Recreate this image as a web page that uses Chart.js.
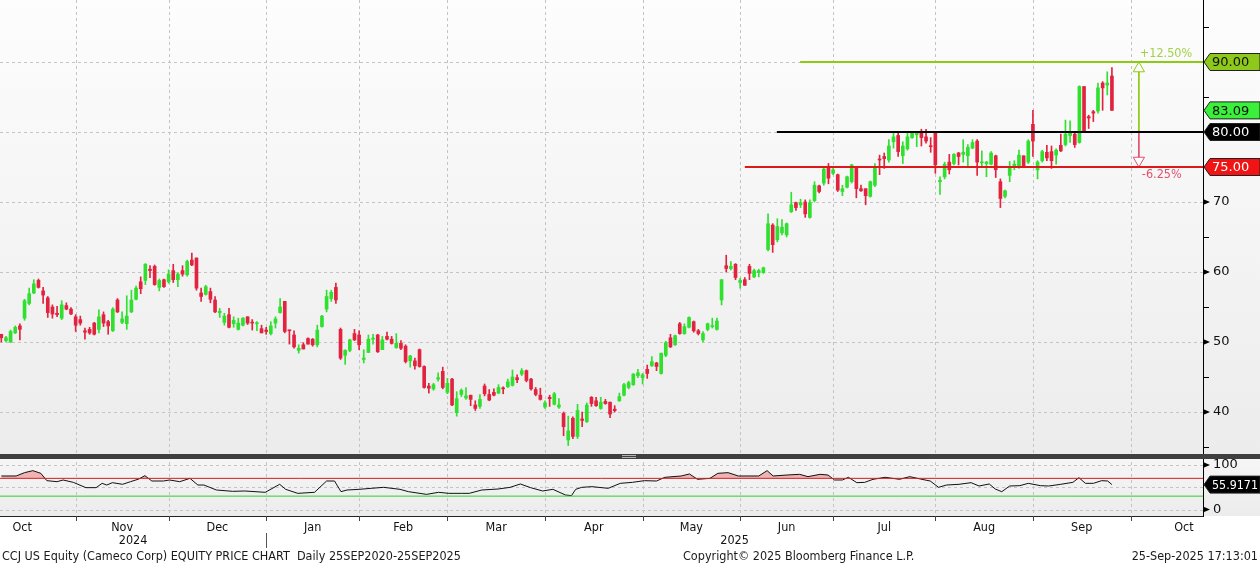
<!DOCTYPE html>
<html>
<head>
<meta charset="utf-8">
<script src="https://cdn.jsdelivr.net/npm/chart.js@4.4.1/dist/chart.umd.min.js"></script>
<style>
html, body { margin: 0; padding: 0; background: #fff; }
canvas { display: block; }
</style>
</head>
<body>
<canvas id="myChart" width="1260" height="567"></canvas>
<script>
"use strict";

// daily OHLC, one entry per trading day from 10 Oct 2024 to 25 Sep 2025
var openPx = [
    51.1,50.2,50.0,51.3,52.3,53.4,55.5,57.0,58.8,57.3,56.3,55.0,54.1,53.4,55.2,54.7,53.6,53.2,51.6,51.8,
    52.7,51.8,53.9,52.9,51.6,56.0,52.8,52.6,54.3,56.1,58.6,58.8,60.4,60.8,57.8,58.9,58.6,60.2,58.9,60.2,
    59.6,61.7,62.0,57.0,56.8,57.2,56.0,54.2,52.8,53.9,52.6,51.8,52.4,53.6,52.8,52.6,51.9,51.7,51.2,52.7,
    54.2,55.8,51.7,51.0,48.8,49.6,50.5,50.4,49.6,52.2,54.7,56.2,57.8,51.8,48.1,48.8,51.2,51.0,47.5,48.5,
    50.4,51.0,48.9,50.8,50.4,49.2,49.8,49.4,47.3,47.3,48.9,46.5,43.7,43.3,44.7,45.8,42.8,44.7,39.9,42.5,
    42.0,42.4,41.0,40.8,43.7,42.5,42.8,42.7,43.4,43.6,43.8,44.9,45.4,45.9,44.7,43.2,42.4,40.7,42.1,41.1,
    40.7,39.8,36.0,39.1,36.5,39.0,38.6,42.1,41.6,40.5,41.5,41.4,40.4,41.6,42.4,43.5,43.9,45.2,44.9,46.1,
    46.6,47.0,45.5,48.1,50.6,49.6,52.6,51.2,52.1,52.9,51.6,50.3,51.8,52.2,51.8,56.0,60.9,60.5,61.1,58.5,
    58.9,60.8,59.3,59.9,59.9,63.2,66.7,64.6,65.6,65.3,68.6,69.9,69.6,70.0,67.8,70.2,72.3,72.7,75.0,74.1,
    73.9,71.5,72.1,72.9,74.8,71.9,71.9,70.8,72.4,76.1,76.5,76.0,78.6,79.5,76.6,77.6,79.2,79.6,80.0,79.3,
    78.0,80.0,72.9,73.6,75.7,75.5,77.0,76.8,76.6,77.7,78.7,75.6,75.5,75.4,76.6,72.9,70.8,73.8,75.0,75.0,
    76.6,75.7,81.1,74.6,75.9,77.1,77.2,76.7,78.1,78.2,79.5,79.7,78.5,86.5,82.2,82.9,83.0,87.0,86.7,88.0
];
var highPx = [
    51.1,50.8,51.7,52.3,52.6,56.1,57.7,58.9,59.0,57.8,56.5,55.3,55.1,55.9,55.6,54.9,53.9,53.7,52.0,52.1,
    52.8,54.6,54.3,53.1,54.9,56.2,54.3,56.6,57.4,58.0,59.3,61.2,60.9,61.0,59.0,59.0,60.3,61.1,59.9,60.9,
    61.7,62.7,62.0,57.7,58.1,57.7,56.5,54.8,54.1,54.8,53.6,53.4,53.5,53.6,53.2,52.9,52.4,52.1,52.9,53.6,
    56.2,55.8,51.7,51.6,49.6,49.9,50.6,50.5,52.4,53.8,57.4,57.4,58.4,52.0,48.9,50.4,51.8,51.6,48.9,51.0,
    51.1,51.1,50.8,51.4,50.8,51.2,50.2,49.6,48.1,47.7,49.0,46.6,44.1,44.1,45.6,46.4,44.8,44.8,42.9,43.3,
    43.5,42.4,41.6,42.5,44.0,43.2,43.3,43.9,43.6,44.7,46.0,45.3,46.2,46.0,44.8,43.5,43.4,41.6,42.4,42.8,
    41.9,40.0,39.4,39.3,41.1,40.0,41.3,42.2,42.1,42.1,41.8,41.4,40.9,42.7,44.1,44.4,45.5,46.1,45.5,46.7,
    47.9,47.1,48.4,50.1,51.1,51.0,52.8,52.6,53.6,53.0,51.8,51.5,52.7,53.4,53.4,58.9,62.4,61.5,61.2,59.1,
    59.2,61.1,60.4,60.4,60.7,68.3,66.9,67.6,67.5,67.0,71.4,70.0,70.4,70.3,70.3,72.9,72.4,75.0,75.5,75.0,
    74.0,72.4,73.7,75.4,75.0,72.4,71.9,73.0,75.5,76.7,77.0,78.9,80.0,79.8,78.6,80.1,80.1,80.1,80.4,80.4,
    79.2,80.1,73.6,75.7,76.8,76.9,77.1,78.9,78.2,78.9,78.9,77.3,75.8,77.2,76.7,73.3,71.7,75.8,75.9,77.4,
    76.6,78.9,83.1,75.9,77.4,78.1,78.0,77.6,79.7,81.7,81.6,80.0,86.6,86.5,82.4,83.1,87.0,87.2,88.6,89.2
];
var lowPx = [
    50.0,50.0,49.9,51.2,50.3,53.1,55.3,56.9,57.7,55.5,53.5,53.4,53.6,53.2,54.6,53.9,51.5,52.4,50.4,51.1,
    51.0,51.3,52.2,51.1,51.5,54.2,52.6,51.8,54.2,56.0,56.9,58.2,59.2,58.1,57.3,57.8,58.4,58.5,57.9,59.4,
    59.4,60.9,57.4,55.8,56.7,55.6,54.2,53.5,52.4,52.0,52.1,51.7,52.3,52.5,51.7,51.6,51.3,51.1,51.0,52.0,
    54.1,51.3,49.7,49.1,48.4,49.0,49.7,49.4,49.3,52.1,54.3,55.8,55.5,47.5,46.8,48.6,50.2,48.9,47.0,48.5,
    49.7,48.5,48.9,50.3,49.7,49.1,48.9,47.0,46.4,46.1,46.4,43.4,42.7,43.1,44.4,43.3,42.6,40.9,39.4,42.2,
    41.8,40.9,40.2,40.5,42.3,41.6,42.3,42.6,42.6,43.5,43.7,44.2,45.2,44.3,43.1,42.3,41.7,40.5,40.8,41.0,
    40.5,36.6,35.2,36.2,36.2,37.9,38.5,40.8,40.8,40.4,41.1,39.2,40.0,41.5,42.3,43.3,43.8,44.9,44.0,44.8,
    46.5,45.9,45.4,47.9,49.2,49.5,51.1,51.1,52.0,51.4,51.0,50.0,51.6,52.0,51.7,55.3,60.0,60.3,58.9,57.7,
    58.1,58.9,59.2,59.3,59.8,63.0,62.8,64.3,65.3,65.0,68.5,68.8,69.2,67.8,67.7,70.0,71.3,72.4,72.6,73.9,
    71.5,70.9,72.0,72.7,70.6,71.5,69.6,70.7,72.2,73.9,74.8,75.7,77.7,76.5,75.5,77.4,79.1,77.9,78.0,78.4,
    77.1,74.1,71.1,73.3,74.0,75.3,75.3,75.7,75.0,77.6,73.8,75.0,73.6,75.3,73.5,69.2,70.6,72.9,74.6,74.8,
    74.9,75.5,76.5,73.3,75.7,75.9,74.8,75.4,77.2,78.0,78.5,77.8,78.4,80.0,80.5,81.5,82.7,83.1,85.3,83.1
];
var closePx = [
    50.6,50.6,51.5,52.1,51.8,55.9,56.9,58.3,57.8,56.7,54.2,54.0,53.9,55.3,54.7,54.0,52.4,52.7,51.4,51.3,
    51.1,53.6,52.7,52.3,54.7,54.3,53.3,53.7,56.0,57.7,57.6,61.1,60.2,58.2,58.8,57.9,59.7,58.9,59.7,59.7,
    61.5,61.0,57.7,56.5,57.9,56.1,54.3,54.4,53.7,52.1,53.1,52.7,53.4,52.7,52.7,52.7,51.3,51.5,52.3,53.3,
    55.0,51.5,51.6,49.3,49.1,49.0,49.7,49.6,51.7,53.7,56.5,57.1,56.0,47.7,48.8,50.3,50.3,49.6,47.7,50.4,
    50.5,48.6,50.3,50.4,49.8,49.8,49.1,47.2,48.0,46.6,46.5,43.5,43.4,43.9,44.9,43.5,44.1,41.0,41.9,43.1,
    42.3,41.8,40.5,41.8,42.6,41.7,42.4,43.5,43.3,44.3,45.0,44.6,45.9,44.5,43.3,42.5,41.8,41.3,41.9,42.6,
    41.0,37.9,37.3,36.5,40.2,38.8,41.0,41.2,40.9,41.4,41.2,39.7,40.2,42.2,43.9,44.2,45.4,45.6,45.3,45.5,
    47.2,46.5,48.4,49.9,49.3,50.9,51.2,52.2,53.5,51.6,51.2,51.2,52.6,52.3,53.0,58.9,60.5,60.8,59.2,58.8,
    58.1,59.8,60.2,60.2,60.6,66.9,63.9,66.5,66.4,66.9,69.6,69.2,69.9,68.3,69.9,72.4,71.5,74.7,73.4,74.6,
    71.7,71.9,73.6,75.3,71.9,71.6,70.9,72.9,75.0,76.0,76.2,78.0,79.3,77.2,78.0,79.3,80.0,79.8,79.2,78.7,
    77.9,75.3,73.1,75.4,74.6,76.8,76.5,77.1,77.8,78.5,75.7,75.7,75.7,77.0,74.6,70.5,71.6,75.0,75.4,76.7,
    75.0,78.7,78.7,75.7,77.2,76.3,75.9,77.4,77.3,79.7,79.9,78.2,86.5,80.1,82.0,82.7,86.3,86.3,87.0,83.09
];

// RSI (trading-day index, value)
var rsiIdx = [0,3.2,5,6.8,8.5,9.8,12,13.3,15.5,18.2,20.4,21.7,22.7,23.9,26.1,27.8,29.6,30.9,32.4,34.9,
    36.2,38.4,40.6,42.3,43.6,46.3,49.8,52.4,56.8,59.9,61.2,63.8,67.4,70,71.7,73.1,74.4,77,79.6,82.3,
    85.8,87.6,91.5,94.1,96.3,99,100.7,103.4,106.9,109.5,111.7,113.9,116.5,118.7,121.4,122.7,123.6,124.9,127.1,130.6,
    133.2,135.8,138.4,141,142.8,146.3,148.1,149.8,152.5,154.2,156.4,158.6,163,164.8,166.1,169.1,171.8,173.6,176.2,177.9,
    179.3,181,182.3,184.1,185.8,187.6,190.2,193.3,195.5,198.1,199.9,201.7,203.4,206.1,208.7,210.4,212.6,213.9,215.3,217,
    219.2,221,223.6,225.4,228,230.6,231.9,233.3,235,236.8,238.1,239];
var rsiVal = [75.3,75.3,82.8,87.3,81.3,64.8,62.5,66.3,61,49.1,49.1,58.8,55,60.3,56.6,62.5,68.5,76,64,64,
    66.3,62.5,70,55,55,43.8,40.8,41.6,38.6,56.6,45.3,36.3,38.6,64,64,40.1,43.8,45.3,47.6,49.8,
    45.3,40.1,34,38.6,36.3,36.3,36.3,43.8,46,49.8,57.3,49.1,41.6,45.3,32.6,31.1,45.3,49.8,51.3,47.6,
    58.8,61,64.8,64,72.3,75.3,79.8,67.8,70,81.3,82.8,75.3,75.3,87.3,75.3,77.5,79,73.8,79,77.5,
    66.3,66.3,72.3,60.3,61,67.8,72.3,67.8,73.8,67.8,64,49.8,55,56.6,60.3,52.8,57.3,46,40,52.8,
    53.6,58.8,53.6,52.8,56.6,61,71.5,58.8,58.8,64.8,64,55.9171];

var monthLabels = ['Oct','Nov','Dec','Jan','Feb','Mar','Apr','May','Jun','Jul','Aug','Sep','Oct'];
var monthStarts = [-7,16,36,57,77,96,117,138,159,179,201,222,243,266];
var yearLabels = ['2024','2025'];
var yearStart = 57;

var levelValues = [90, 80, 75];
var levelFrom = [171.9, 166.9, 160.0];
var arrowAt = 244.8;
var lastPrice = 83.09;
var lastRsi = 55.9171;
var rsiHigh = 70, rsiLow = 30;

var GREEN = '#2fe02f', RED = '#e2233f';
var X_MIN = -0.28, X_MAX = 258.6;

function candleColor(c) {
    var i = c.dataIndex;
    if (i === undefined) return GREEN;
    return closePx[i] >= openPx[i] ? GREEN : RED;
}

var wickData = lowPx.map(function (l, i) { return { x: i, y: [l, highPx[i]] }; });
var bodyData = openPx.map(function (o, i) { return { x: i, y: [o, closePx[i]] }; });
var rsiData = rsiIdx.map(function (x, i) { return { x: x, y: rsiVal[i] }; });

function hLine(v, from) { return [{ x: from, y: v }, { x: X_MAX, y: v }]; }

var levelColors = ['#8dcb12', '#000000', '#dd1a1a'];
var levelSets = levelValues.map(function (v, k) {
    return {
        type: 'line', data: hLine(v, levelFrom[k]), borderColor: levelColors[k], borderWidth: 2,
        pointRadius: 0, yAxisID: 'y', order: 0
    };
});

var FONT = "'DejaVu Sans', 'Liberation Sans', sans-serif";
var CFONT = "'DejaVu Sans Condensed', 'DejaVu Sans', sans-serif";

function noPad(s) {
    s.paddingLeft = 0;
    s.paddingRight = 0;
    s.paddingTop = 0;
    s.paddingBottom = 0;
}

function badge(ctx, left, y, text, fill, textColor) {
    ctx.beginPath();
    ctx.moveTo(left + 1, y);
    ctx.lineTo(left + 7, y - 8.5);
    ctx.lineTo(1260, y - 8.5);
    ctx.lineTo(1260, y + 8.5);
    ctx.lineTo(left + 7, y + 8.5);
    ctx.closePath();
    ctx.fillStyle = fill;
    ctx.fill();
    ctx.strokeStyle = '#222';
    ctx.lineWidth = 1;
    ctx.stroke();
    ctx.fillStyle = textColor;
    ctx.font = '13px ' + FONT;
    ctx.textAlign = 'left';
    ctx.textBaseline = 'middle';
    ctx.fillText(text, left + 9, y + 1, 1258 - left - 9);
}

var bbgPlugin = {
    id: 'bbg',
    beforeDraw: function (chart) {
        var ctx = chart.ctx, a = chart.chartArea;
        var xs = chart.scales.x, ys = chart.scales.y, rs = chart.scales.yRsi;
        ctx.save();
        ctx.fillStyle = '#ffffff';
        ctx.fillRect(0, 0, chart.width, chart.height);
        var g = ctx.createLinearGradient(0, 0, 0, ys.bottom);
        g.addColorStop(0, '#fdfdfd');
        g.addColorStop(1, '#ececec');
        ctx.fillStyle = g;
        ctx.fillRect(0, 0, chart.width, ys.bottom);
        var g2 = ctx.createLinearGradient(0, rs.top, 0, rs.bottom);
        g2.addColorStop(0, '#f6f6f6');
        g2.addColorStop(1, '#ececec');
        ctx.fillStyle = g2;
        ctx.fillRect(0, rs.top, chart.width, rs.bottom - rs.top);

        ctx.strokeStyle = '#c4c4c4';
        ctx.lineWidth = 1;
        ctx.setLineDash([3, 3]);
        ctx.beginPath();
        monthStarts.forEach(function (s) {
            var x = xs.getPixelForValue(s);
            if (x < a.left || x > a.right) return;
            x = Math.round(x) + 0.5;
            ctx.moveTo(x, a.top);
            ctx.lineTo(x, a.bottom);
        });
        [40, 50, 60, 70, 80, 90].forEach(function (v) {
            var y = Math.round(ys.getPixelForValue(v)) + 0.5;
            ctx.moveTo(a.left, y);
            ctx.lineTo(a.right, y);
        });
        [0, 50, 100].forEach(function (v) {
            var y = Math.round(rs.getPixelForValue(v)) + 0.5;
            ctx.moveTo(a.left, y);
            ctx.lineTo(a.right, y);
        });
        ctx.stroke();
        ctx.restore();
    },
    afterDraw: function (chart) {
        var ctx = chart.ctx, a = chart.chartArea;
        var xs = chart.scales.x, ys = chart.scales.y, rs = chart.scales.yRsi;
        ctx.save();

        // panel separator
        var sep = ys.bottom;
        ctx.fillStyle = '#3f3f3f';
        ctx.fillRect(0, sep - 2, chart.width, 5);
        ctx.strokeStyle = '#b0b0b0';
        ctx.lineWidth = 1;
        ctx.beginPath();
        ctx.moveTo(622, sep - 0.5); ctx.lineTo(636, sep - 0.5);
        ctx.moveTo(622, sep + 1.5); ctx.lineTo(636, sep + 1.5);
        ctx.stroke();

        // minor ticks and arrow markers on the right axis
        ctx.strokeStyle = '#000';
        ctx.beginPath();
        [35, 45, 55, 65, 75, 85, 95].forEach(function (v) {
            var y = Math.round(ys.getPixelForValue(v)) + 0.5;
            ctx.moveTo(a.right, y);
            ctx.lineTo(a.right + 6, y);
        });
        ctx.stroke();
        ctx.fillStyle = '#000';
        function marker(y) {
            ctx.beginPath();
            ctx.moveTo(a.right, y - 3);
            ctx.lineTo(a.right + 7, y);
            ctx.lineTo(a.right, y + 3);
            ctx.closePath();
            ctx.fill();
        }
        [40, 50, 60, 70].forEach(function (v) { marker(ys.getPixelForValue(v)); });
        [0, 100].forEach(function (v) { marker(rs.getPixelForValue(v)); });

        // month ticks under the axis
        ctx.strokeStyle = '#444';
        ctx.beginPath();
        monthStarts.forEach(function (s) {
            var x = xs.getPixelForValue(s);
            if (x < a.left || x > a.right) return;
            x = Math.round(x) + 0.5;
            ctx.moveTo(x, a.bottom);
            ctx.lineTo(x, a.bottom + 5);
        });
        ctx.stroke();

        // year row
        var xy = xs.getPixelForValue(yearStart);
        ctx.strokeStyle = '#555';
        ctx.beginPath();
        ctx.moveTo(Math.round(xy) + 0.5, 533);
        ctx.lineTo(Math.round(xy) + 0.5, 548);
        ctx.stroke();
        ctx.fillStyle = '#111';
        ctx.font = '12.5px ' + CFONT;
        ctx.textAlign = 'center';
        ctx.textBaseline = 'middle';
        ctx.fillText(yearLabels[0], (a.left + xy) / 2, 541);
        ctx.fillText(yearLabels[1], (xy + a.right) / 2, 541);

        // percentage labels beside the arrow
        var ax = xs.getPixelForValue(arrowAt);
        ctx.font = '12.5px ' + CFONT;
        ctx.textAlign = 'left';
        ctx.fillStyle = '#a2d04a';
        ctx.fillText('+12.50%', ax + 1, ys.getPixelForValue(levelValues[0]) - 8);
        ctx.fillStyle = '#e2506c';
        ctx.fillText('-6.25%', ax + 3, ys.getPixelForValue(levelValues[2]) + 8);

        // value badges
        badge(ctx, a.right, ys.getPixelForValue(levelValues[0]), levelValues[0].toFixed(2), '#8dc81a', '#111');
        badge(ctx, a.right, ys.getPixelForValue(lastPrice), lastPrice.toFixed(2), '#3af03a', '#111');
        badge(ctx, a.right, ys.getPixelForValue(levelValues[1]), levelValues[1].toFixed(2), '#000', '#fff');
        badge(ctx, a.right, ys.getPixelForValue(levelValues[2]), levelValues[2].toFixed(2), '#f01414', '#fff');
        badge(ctx, a.right, rs.getPixelForValue(lastRsi), String(lastRsi), '#000', '#fff');

        // footer
        ctx.fillStyle = '#1a1a1a';
        ctx.font = '12.5px ' + CFONT;
        ctx.textBaseline = 'middle';
        ctx.textAlign = 'left';
        ctx.fillText('CCJ US Equity (Cameco Corp) EQUITY PRICE CHART  Daily 25SEP2020-25SEP2025', 2, 557, 468);
        ctx.fillText('Copyright\u00A9 2025 Bloomberg Finance L.P.', 683, 557, 240);
        ctx.textAlign = 'right';
        ctx.fillText('25-Sep-2025 17:13:01', 1258, 557, 133);
        ctx.restore();
    }
};

var ctx = document.getElementById('myChart').getContext('2d');

var myChart = new Chart(ctx, {
    type: 'bar',
    data: {
        datasets: levelSets.concat([
            {
                type: 'line',
                data: [{ x: arrowAt, y: 89.07 }, { x: arrowAt, y: 80 }],
                borderColor: '#8dcb12', borderWidth: 1,
                pointStyle: 'triangle', pointRadius: [6.5, 0], pointRotation: 0,
                pointBackgroundColor: '#ffffff', pointBorderColor: '#8dcb12', pointBorderWidth: 1,
                yAxisID: 'y', order: 0
            },
            {
                type: 'line',
                data: [{ x: arrowAt, y: 80 }, { x: arrowAt, y: 75.93 }],
                borderColor: '#e2506c', borderWidth: 1,
                pointStyle: 'triangle', pointRadius: [0, 6.5], pointRotation: 180,
                pointBackgroundColor: '#ffffff', pointBorderColor: '#e2506c', pointBorderWidth: 1,
                yAxisID: 'y', order: 0
            },
            {
                type: 'bar',
                data: bodyData,
                backgroundColor: candleColor,
                barThickness: 3,
                minBarLength: 1,
                grouped: false,
                borderWidth: 0,
                yAxisID: 'y',
                order: 2
            },
            {
                type: 'bar',
                data: wickData,
                backgroundColor: candleColor,
                barThickness: 1,
                grouped: false,
                borderWidth: 0,
                yAxisID: 'y',
                order: 3
            },
            {
                type: 'line',
                data: hLine(rsiHigh, X_MIN),
                borderColor: '#d42020', borderWidth: 1, pointRadius: 0,
                yAxisID: 'yRsi', order: 1
            },
            {
                type: 'line',
                data: hLine(rsiLow, X_MIN),
                borderColor: '#2ecc2e', borderWidth: 1, pointRadius: 0,
                yAxisID: 'yRsi', order: 1
            },
            {
                type: 'line',
                data: rsiData,
                borderColor: '#111', borderWidth: 1, pointRadius: 0, tension: 0,
                fill: { target: { value: rsiHigh }, above: 'rgba(238,150,150,0.7)', below: 'rgba(0,0,0,0)' },
                yAxisID: 'yRsi', order: 2
            }
        ])
    },
    options: {
        responsive: false,
        animation: false,
        devicePixelRatio: 1,
        layout: { padding: 0, autoPadding: false },
        plugins: {
            legend: { display: false },
            tooltip: { enabled: false }
        },
        scales: {
            x: {
                type: 'linear',
                min: X_MIN,
                max: X_MAX,
                offset: false,
                position: 'bottom',
                grid: { display: false, drawTicks: false },
                border: { display: true, color: '#222', width: 1 },
                afterFit: function (s) { s.height = 51; noPad(s); },
                afterBuildTicks: function (s) {
                    s.ticks = monthLabels.map(function (m, k) {
                        return { value: (monthStarts[k] + monthStarts[k + 1]) / 2 };
                    });
                },
                ticks: {
                    autoSkip: false,
                    maxRotation: 0,
                    padding: 4,
                    color: '#111',
                    font: { family: CFONT, size: 12.5 },
                    callback: function (v, i) { return monthLabels[i]; }
                }
            },
            y: {
                type: 'linear',
                position: 'right',
                stack: 'panels',
                stackWeight: 456,
                weight: 1,
                min: 33.71,
                max: 98.86,
                offset: false,
                grid: { display: false, drawTicks: false },
                border: { display: true, color: '#000', width: 1 },
                afterFit: function (s) { s.width = 57; noPad(s); },
                ticks: {
                    stepSize: 10,
                    includeBounds: false,
                    padding: 10,
                    color: '#111',
                    font: { family: FONT, size: 13 },
                    callback: function (v) { return (v >= 40 && v <= 70) ? String(v) : null; }
                }
            },
            yRsi: {
                type: 'linear',
                position: 'right',
                stack: 'panels',
                stackWeight: 60,
                weight: 2,
                min: -14.6,
                max: 120.2,
                offset: false,
                grid: { display: false, drawTicks: false },
                border: { display: true, color: '#000', width: 1 },
                afterFit: function (s) { s.width = 57; noPad(s); },
                ticks: {
                    stepSize: 50,
                    includeBounds: false,
                    padding: 10,
                    color: '#111',
                    font: { family: FONT, size: 13 },
                    callback: function (v) { return (v === 0 || v === 100) ? String(v) : null; }
                }
            }
        }
    },
    plugins: [bbgPlugin]
});
</script>
</body>
</html>
